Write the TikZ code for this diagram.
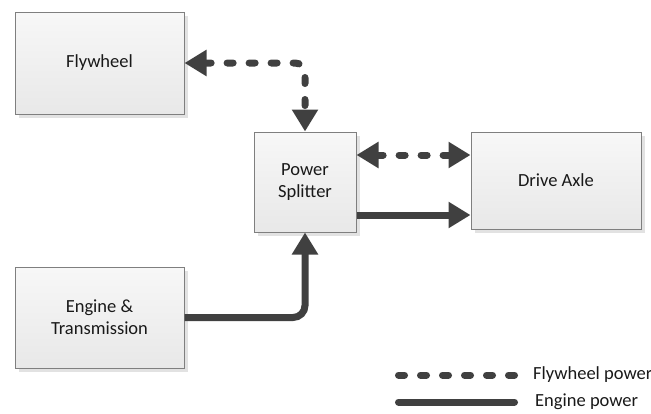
\documentclass[tikz,border=0pt]{standalone}
\usepackage{fontspec}
\setmainfont{Carlito}
\usetikzlibrary{arrows.meta,calc}
\definecolor{arrowgray}{HTML}{404040}
\definecolor{boxedge}{HTML}{7F7F7F}
\definecolor{shadowgray}{HTML}{E2E2E2}
\tikzset{
  blockbox/.style={draw=boxedge, line width=1pt, top color=white!97!black, bottom color=white!91!black,
    align=center, font=\fontsize{18.5}{22}\selectfont, text=black!90, inner sep=0pt},
  boxshadow/.style={fill=shadowgray, draw=none},
  tip/.style={-{Triangle[width=25pt,length=22pt]}},
  tips/.style={{Triangle[width=25pt,length=22pt]}-{Triangle[width=25pt,length=22pt]}},
  flow/.style={draw=arrowgray, line width=7pt},
  flyflow/.style={flow, line cap=round, dash pattern=on 6pt off 16pt},
  engflow/.style={flow, line cap=butt},
  legtext/.style={anchor=west, font=\fontsize{18.5}{22}\selectfont, text=black!90, inner sep=0pt},
}
\begin{document}
\begin{tikzpicture}[x=1pt,y=-1pt]
\useasboundingbox (0,0) rectangle (651,413);
% shadows
\fill[boxshadow] (19,16) rectangle (188,118);
\fill[boxshadow] (258,136) rectangle (360,236);
\fill[boxshadow] (475,136) rectangle (645,233);
\fill[boxshadow] (19,271) rectangle (188,372);
% boxes
\node[blockbox, minimum width=169pt, minimum height=102pt] (fly) at (99.5,63) {Flywheel};
\node[blockbox, minimum width=102pt, minimum height=100pt] (split) at (305,182) {Power\\Splitter};
\node[blockbox, minimum width=170pt, minimum height=97pt] (drive) at (556,180.5) {Drive Axle};
\node[blockbox, minimum width=169pt, minimum height=101pt] (eng) at (99.5,317.5) {Engine \&\\Transmission};
% connectors
\draw[flyflow, tips, rounded corners=10pt] (fly.east) -| (split.north);
\draw[flyflow, tips] ([yshift=27pt]split.east) -- ([yshift=27pt]split.east -| drive.west);
\draw[engflow, tip] ([yshift=-33pt]split.east) -- ([yshift=-33pt]split.east -| drive.west);
\draw[engflow, tip, rounded corners=12pt] (eng.east) -| (split.south);
% legend
\coordinate (d1) at (398.5,375);
\coordinate (d2) at (520,375);
\coordinate (s1) at (398.5,402);
\coordinate (s2) at (514.5,402);
\draw[flyflow] (d1) -- (d2);
\draw[flow, line cap=round] (s1) -- (s2);
\node[legtext] (lf) at (533,375) {Flywheel power};
\node[legtext] (le) at (535,402) {Engine power};
\end{tikzpicture}
\end{document}
